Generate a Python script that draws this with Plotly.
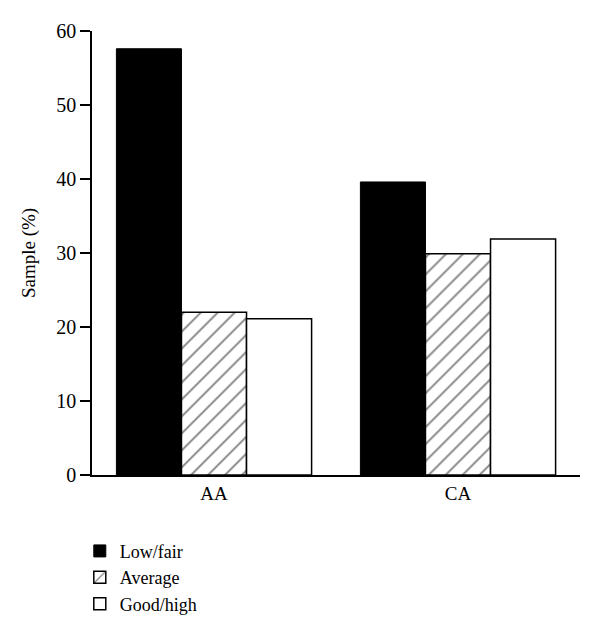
import plotly.graph_objects as go

categories = ["AA", "CA"]
series_names = ["Low/fair", "Average", "Good/high"]
low_fair = [57.6, 39.6]
average = [22.0, 29.9]
good_high = [21.1, 31.9]
y_ticks = [0, 10, 20, 30, 40, 50, 60]

FONT = "Liberation Serif"

fig = go.Figure()
fig.add_trace(go.Bar(
    x=categories, y=low_fair, name=series_names[0],
    marker=dict(color="black", line=dict(color="black", width=1)),
))
fig.add_trace(go.Bar(
    x=categories, y=average, name=series_names[1],
    marker=dict(color="white", line=dict(color="black", width=1.5),
                pattern=dict(shape="/", fgcolor="black", bgcolor="white",
                             size=12, solidity=0.15)),
))
fig.add_trace(go.Bar(
    x=categories, y=good_high, name=series_names[2],
    marker=dict(color="white", line=dict(color="black", width=1.5)),
))

fig.update_layout(
    width=600, height=633,
    margin=dict(l=84, r=28, t=23, b=166),
    paper_bgcolor="white", plot_bgcolor="white",
    barmode="group", bargap=0.2, bargroupgap=0,
    font=dict(family=FONT, size=19, color="black"),
    showlegend=True,
    legend=dict(
        x=-0.025, y=-0.13, xanchor="left", yanchor="top",
        font=dict(family=FONT, size=18, color="black"),
        tracegroupgap=0, itemwidth=30, traceorder="normal",
        bgcolor="rgba(0,0,0,0)",
    ),
    xaxis=dict(
        showline=True, linecolor="black", linewidth=1.5,
        ticks="", showgrid=False, zeroline=False,
        tickfont=dict(family=FONT, size=19, color="black"),
        range=[-0.5, 1.5],
    ),
    yaxis=dict(
        range=[0, 60], tickvals=y_ticks,
        showline=True, linecolor="black", linewidth=1.5,
        ticks="outside", ticklen=10, tickwidth=1.5, tickcolor="black",
        showgrid=False, zeroline=False,
        tickfont=dict(family=FONT, size=20, color="black"),
        title=dict(text="Sample (%)", font=dict(family=FONT, size=19, color="black"), standoff=16),
    ),
)
fig.add_shape(type="line", xref="paper", yref="y",
              x0=-10/488, x1=0, y0=0, y1=0,
              line=dict(color="black", width=1.5))

fig.write_html("out.html")
